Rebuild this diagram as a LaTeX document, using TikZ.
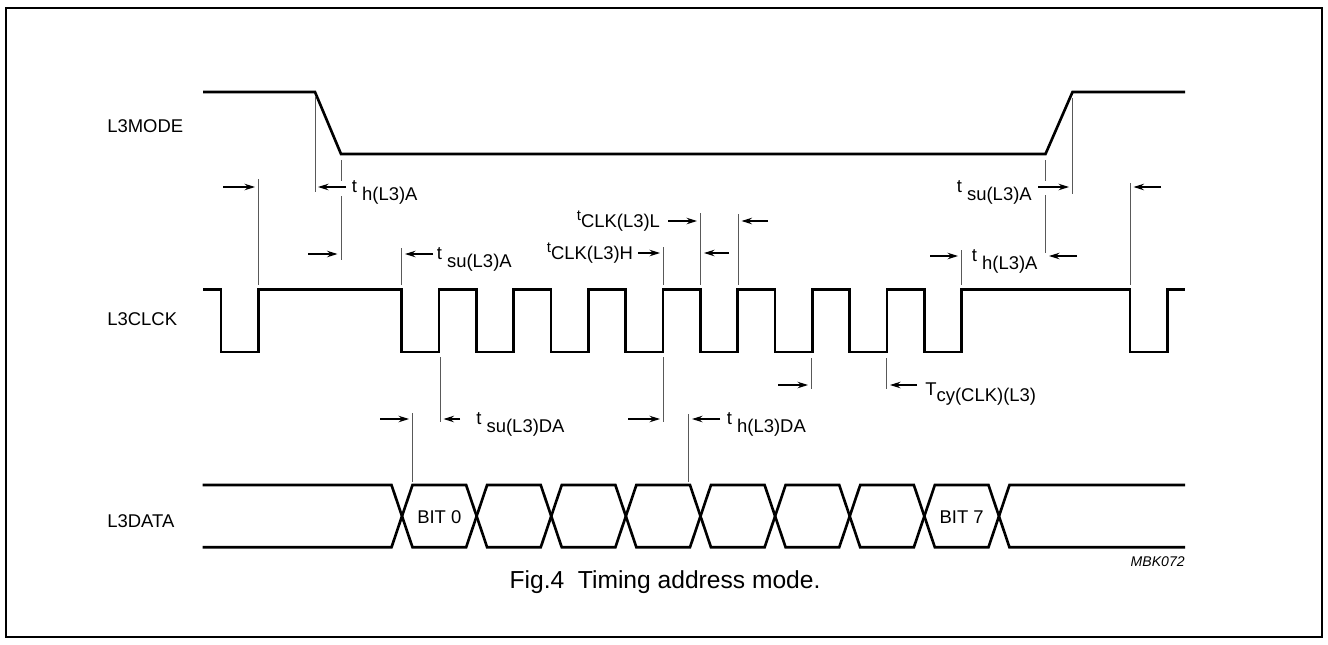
\documentclass[tikz,border=0pt]{standalone}
\usepackage{fontspec}
\setmainfont{Liberation Sans}
\usetikzlibrary{arrows.meta}

% timing labels: t with lowered index, and small raised t
\newcommand{\tlow}[2]{#1\ \raisebox{-0.45em}{#2}}
\newcommand{\thigh}[1]{\raisebox{0.4em}{\fontsize{8.5}{9}\selectfont t}#1}

\begin{document}
\begin{tikzpicture}[x=0.2mm, y=-0.2mm, >={Stealth[length=2.1mm,width=1.3mm]},
  font=\fontsize{10.5}{12.6}\selectfont,
  signal/.style={line width=1.5pt},
  marker/.style={line width=0.5pt, black!65},
  dim/.style={->, line width=0.6pt},
  lbl/.style={inner sep=0pt, anchor=base west}]

\useasboundingbox (0,0) rectangle (1328,644);

% Frame
\draw[line width=1pt] (6,8) rectangle (1322,637);

% Signal names
\node[anchor=west, inner sep=0pt] (nmode) at (107,125.7) {L3MODE};
\node[anchor=west, inner sep=0pt] (nclck) at (107,319.5) {L3CLCK};
\node[anchor=west, inner sep=0pt] (ndata) at (107,521.5) {L3DATA};

% ---- L3MODE ----
\draw[signal] (203,92) -- (315,92) -- (341,154) -- (1045.5,154) -- (1072.5,92) -- (1185,92);

% ---- L3CLCK ----
\def\clkhi{289.5}
\def\clklo{352}
\draw[signal] (203,\clkhi) -- (221,\clkhi) -- (221,\clklo) -- (258.3,\clklo) -- (258.3,\clkhi) -- (401.7,\clkhi)
  \foreach \k in {1,...,8} { -- ++(0,62.5) -- ++(37.4,0) -- ++(0,-62.5) -- ++(37.26,0) }
  -- (1130,\clkhi) -- (1130,\clklo) -- (1167.3,\clklo) -- (1167.3,\clkhi) -- (1185,\clkhi);

% ---- L3DATA ----
\def\dtop{485}
\def\dbot{547.3}
\draw[signal] (202.7,\dtop) -- (391.5,\dtop)
  \foreach \k in {1,...,4} { -- ++(21,62.3) -- ++(53.62,0) -- ++(21,-62.3) -- ++(53.62,0) }
  -- ++(21,62.3) -- (1185,\dbot);
\draw[signal] (202.7,\dbot) -- (391.5,\dbot)
  \foreach \k in {1,...,4} { -- ++(21,-62.3) -- ++(53.62,0) -- ++(21,62.3) -- ++(53.62,0) }
  -- ++(21,-62.3) -- (1185,\dtop);
\node (bit0) at (439.3,517) {BIT 0};
\node (bit7) at (961.7,517) {BIT 7};

% Reference lines
\foreach \x/\ya/\yb in {258.3/179/285, 315/97/192, 341/160/181, 341/196/260, 401.7/248/285,
    663.7/247/285, 700.7/213/285, 738.3/214/285, 961.7/250/285, 1045.7/160/181, 1045.7/195/253,
    1072.7/98/194, 1130/183/285, 440/357/422, 663.7/357/422, 811.7/358/389, 886.7/358/389,
    412.7/413/482, 688.3/414/482}
  \draw[marker] (\x,\ya) -- (\x,\yb);

% Dimension arrows
\foreach \xa/\xb/\y in {223/255/187, 346/318/187, 308/337.5/254, 433/405/254,
    668/697/221, 768/741.5/221, 638/660/253, 729/704/253,
    380/409/419, 460/443.5/419, 628/660/419, 720/692/419,
    778/808/385, 917/890/385, 930/958/256, 1077/1049/256,
    1038/1069/187, 1161/1133.5/187}
  \draw[dim] (\xa,\y) -- (\xb,\y);

% Timing labels
\node[lbl] (thA1) at (351.5,192) {\tlow{t}{h(L3)A}};
\node[lbl] (tsuA1) at (436.5,259) {\tlow{t}{su(L3)A}};
\node[lbl] (tclkL) at (576.5,227.5) {\thigh{CLK(L3)L}};
\node[lbl] (tclkH) at (546.5,259.5) {\thigh{CLK(L3)H}};
\node[lbl] (tsuDA) at (476,424) {\tlow{t}{su(L3)DA}};
\node[lbl] (thDA) at (726.5,424) {\tlow{t}{h(L3)DA}};
\node[lbl] (tcy) at (925,395) {T\raisebox{-0.35em}{cy(CLK)(L3)}};
\node[lbl] (thA2) at (971.5,261) {\tlow{t}{h(L3)A}};
\node[lbl] (tsuA2) at (956.5,192) {\tlow{t}{su(L3)A}};

% Code and caption
\node[font=\fontsize{8}{9}\selectfont\itshape, anchor=east, inner sep=0pt] (code) at (1185,562) {MBK072};
\node[font=\fontsize{14}{16}\selectfont, anchor=base] (caption) at (665,588) {Fig.4\ \ Timing address mode.};

\end{tikzpicture}
\end{document}
